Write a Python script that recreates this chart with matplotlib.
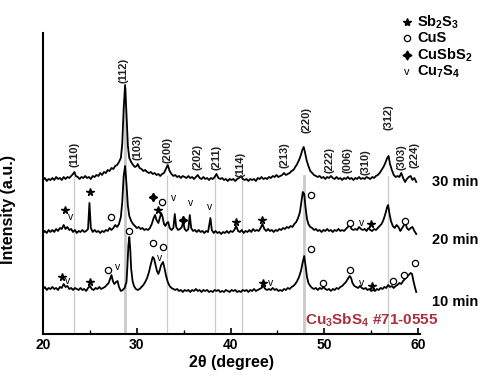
import matplotlib
matplotlib.use('Agg')
import matplotlib.pyplot as plt

plt.rcParams['font.family'] = ['Liberation Sans', 'DejaVu Sans']
plt.rcParams['font.weight'] = 'bold'
plt.rcParams['mathtext.fontset'] = 'custom'
plt.rcParams['mathtext.rm'] = 'Liberation Sans:bold'
plt.rcParams['mathtext.bf'] = 'Liberation Sans:bold'
plt.rcParams['mathtext.default'] = 'bf'

# ---- pattern data (2theta, intensity a.u. with offsets as in the figure) ----
x30 = [20.0, 20.2, 20.4, 20.6, 20.8, 21.0, 21.2, 21.4, 21.6, 21.8, 22.0, 22.2, 22.4, 22.6, 22.8, 23.0, 23.2, 23.35, 23.5, 23.7,
       23.9, 24.1, 24.3, 24.5, 24.7, 24.9, 25.1, 25.3, 25.5, 25.7, 25.9, 26.1, 26.3, 26.5, 26.7, 26.9, 27.1, 27.3, 27.5, 27.7,
       27.9, 28.1, 28.3, 28.45, 28.6, 28.75, 28.9, 29.05, 29.2, 29.4, 29.6, 29.8, 30.0, 30.1, 30.3, 30.5, 30.7, 30.9, 31.1, 31.3,
       31.5, 31.7, 31.9, 32.1, 32.3, 32.5, 32.7, 32.9, 33.1, 33.3, 33.5, 33.7, 33.9, 34.1, 34.3, 34.5, 34.7, 34.9, 35.1, 35.3,
       35.5, 35.7, 35.9, 36.1, 36.3, 36.5, 36.7, 36.9, 37.1, 37.3, 37.5, 37.7, 37.9, 38.1, 38.3, 38.5, 38.7, 38.9, 39.1, 39.3,
       39.5, 39.7, 39.9, 40.1, 40.3, 40.5, 40.7, 40.9, 41.1, 41.3, 41.5, 41.7, 41.9, 42.1, 42.3, 42.5, 42.7, 42.9, 43.1, 43.3,
       43.5, 43.7, 43.9, 44.1, 44.3, 44.5, 44.7, 44.9, 45.1, 45.3, 45.5, 45.7, 45.9, 46.1, 46.3, 46.5, 46.7, 46.9, 47.1, 47.3,
       47.5, 47.65, 47.8, 47.95, 48.1, 48.3, 48.5, 48.7, 48.9, 49.1, 49.3, 49.5, 49.7, 49.9, 50.1, 50.3, 50.5, 50.7, 50.9, 51.1,
       51.3, 51.5, 51.7, 51.9, 52.1, 52.3, 52.5, 52.7, 52.9, 53.1, 53.3, 53.5, 53.7, 53.9, 54.1, 54.3, 54.5, 54.7, 54.9, 55.1,
       55.3, 55.5, 55.7, 55.9, 56.1, 56.3, 56.5, 56.7, 56.85, 57.0, 57.2, 57.4, 57.6, 57.8, 58.0, 58.2, 58.4, 58.6, 58.8, 59.0,
       59.2, 59.4, 59.6, 59.8]
y30 = [154, 156, 153, 155, 154, 156, 154, 157, 155, 156, 154, 157, 155, 157, 156, 158, 160, 162, 158, 157,
       155, 157, 156, 158, 156, 157, 155, 158, 157, 159, 158, 161, 159, 162, 161, 164, 163, 166, 165, 168,
       169, 172, 176, 190, 225, 249, 220, 188, 176, 172, 169, 167, 168, 170, 166, 165, 163, 164, 162, 161,
       162, 160, 161, 159, 160, 158, 160, 161, 165, 169, 163, 160, 158, 159, 157, 158, 156, 158, 157, 156,
       158, 156, 157, 155, 157, 159, 156, 155, 157, 155, 156, 154, 156, 155, 157, 160, 156, 155, 156, 154,
       155, 153, 155, 154, 155, 153, 155, 156, 158, 155, 154, 155, 153, 155, 154, 155, 153, 156, 155, 157,
       155, 156, 155, 157, 156, 158, 157, 159, 157, 158, 159, 161, 159, 160, 161, 163, 164, 167, 170, 174,
       179, 184, 187, 181, 174, 168, 163, 161, 159, 158, 157, 158, 156, 157, 155, 157, 156, 158, 156, 155,
       157, 155, 156, 154, 156, 155, 157, 155, 156, 154, 156, 155, 157, 155, 156, 155, 157, 156, 155, 157,
       156, 158, 159, 161, 164, 167, 171, 176, 178, 170, 164, 159, 157, 158, 157, 161, 156, 152, 155, 157,
       158, 154, 156, 152]

x20 = [20.0, 20.2, 20.4, 20.6, 20.8, 21.0, 21.2, 21.4, 21.6, 21.8, 22.0, 22.2, 22.4, 22.6, 22.8, 23.0, 23.2, 23.4, 23.6, 23.8,
       24.0, 24.2, 24.4, 24.6, 24.8, 24.95, 25.1, 25.3, 25.5, 25.7, 25.9, 26.1, 26.3, 26.5, 26.7, 26.9, 27.1, 27.3, 27.5, 27.7,
       27.9, 28.1, 28.3, 28.45, 28.6, 28.75, 28.9, 29.05, 29.2, 29.4, 29.6, 29.8, 30.0, 30.2, 30.4, 30.6, 30.8, 31.0, 31.2, 31.4,
       31.6, 31.8, 31.95, 32.1, 32.3, 32.45, 32.6, 32.75, 32.9, 33.05, 33.2, 33.35, 33.5, 33.7, 33.9, 34.05, 34.2, 34.4, 34.6, 34.8,
       34.95, 35.1, 35.3, 35.5, 35.65, 35.8, 36.0, 36.2, 36.4, 36.6, 36.8, 37.0, 37.2, 37.4, 37.6, 37.85, 38.0, 38.2, 38.4, 38.6,
       38.8, 39.0, 39.2, 39.4, 39.6, 39.8, 40.0, 40.2, 40.4, 40.6, 40.8, 41.0, 41.2, 41.4, 41.6, 41.8, 42.0, 42.2, 42.4, 42.6,
       42.8, 43.0, 43.2, 43.4, 43.6, 43.8, 44.0, 44.2, 44.4, 44.6, 44.8, 45.0, 45.2, 45.4, 45.6, 45.8, 46.0, 46.2, 46.4, 46.6,
       46.8, 47.0, 47.2, 47.4, 47.55, 47.7, 47.85, 48.0, 48.15, 48.3, 48.5, 48.7, 48.9, 49.1, 49.3, 49.5, 49.7, 49.9, 50.1, 50.3,
       50.5, 50.7, 50.9, 51.1, 51.3, 51.5, 51.7, 51.9, 52.1, 52.3, 52.5, 52.7, 52.9, 53.1, 53.3, 53.5, 53.7, 53.9, 54.1, 54.3,
       54.5, 54.7, 54.9, 55.1, 55.3, 55.5, 55.7, 55.9, 56.1, 56.3, 56.5, 56.7, 56.8, 56.95, 57.1, 57.3, 57.5, 57.7, 57.9, 58.1,
       58.3, 58.5, 58.65, 58.8, 59.0, 59.2, 59.4, 59.6, 59.8]
y20 = [101, 103, 101, 104, 102, 104, 102, 105, 103, 106, 105, 109, 105, 107, 104, 105, 102, 104, 101, 103,
       102, 104, 102, 103, 105, 131, 106, 102, 104, 102, 103, 101, 103, 102, 104, 103, 106, 104, 106, 109,
       107, 110, 117, 132, 158, 168, 150, 128, 118, 113, 110, 108, 106, 107, 105, 106, 104, 105, 104, 106,
       110, 116, 119, 114, 111, 116, 121, 117, 110, 108, 111, 112, 106, 104, 106, 120, 107, 104, 105, 107,
       112, 105, 103, 105, 119, 106, 103, 104, 102, 104, 102, 103, 101, 103, 102, 116, 104, 101, 103, 101,
       102, 100, 102, 101, 103, 101, 103, 102, 104, 108, 103, 102, 104, 101, 103, 102, 104, 102, 105, 103,
       104, 103, 106, 110, 105, 103, 105, 103, 104, 102, 104, 103, 105, 104, 106, 105, 107, 106, 108, 107,
       110, 112, 116, 122, 132, 142, 140, 126, 115, 110, 107, 106, 104, 105, 103, 104, 102, 104, 103, 105,
       103, 104, 102, 104, 103, 105, 103, 104, 103, 105, 107, 109, 105, 104, 105, 104, 107, 105, 104, 105,
       103, 106, 104, 103, 105, 104, 106, 108, 110, 114, 120, 127, 129, 120, 113, 108, 106, 109, 107, 103,
       106, 109, 111, 106, 104, 106, 107, 103, 100]

x10 = [20.0, 20.2, 20.4, 20.6, 20.8, 21.0, 21.2, 21.4, 21.6, 21.8, 22.0, 22.2, 22.4, 22.6, 22.8, 23.0, 23.2, 23.4, 23.6, 23.8,
       24.0, 24.2, 24.4, 24.6, 24.8, 25.0, 25.2, 25.4, 25.6, 25.8, 26.0, 26.2, 26.4, 26.6, 26.8, 27.0, 27.15, 27.3, 27.45, 27.6,
       27.8, 27.95, 28.1, 28.3, 28.5, 28.7, 28.9, 29.0, 29.1, 29.2, 29.3, 29.4, 29.55, 29.7, 29.9, 30.1, 30.3, 30.5, 30.7, 30.9,
       31.1, 31.3, 31.5, 31.7, 31.85, 32.0, 32.15, 32.3, 32.45, 32.6, 32.8, 32.95, 33.1, 33.3, 33.5, 33.7, 33.9, 34.1, 34.3, 34.5,
       34.7, 34.9, 35.1, 35.3, 35.5, 35.7, 35.9, 36.1, 36.3, 36.5, 36.7, 36.9, 37.1, 37.3, 37.5, 37.7, 37.9, 38.1, 38.3, 38.5,
       38.7, 38.9, 39.1, 39.3, 39.5, 39.7, 39.9, 40.1, 40.3, 40.5, 40.7, 40.9, 41.1, 41.3, 41.5, 41.7, 41.9, 42.1, 42.3, 42.5,
       42.7, 42.9, 43.1, 43.3, 43.5, 43.7, 43.9, 44.1, 44.3, 44.5, 44.7, 44.9, 45.1, 45.3, 45.5, 45.7, 45.9, 46.1, 46.3, 46.5,
       46.7, 46.9, 47.1, 47.3, 47.5, 47.7, 47.85, 48.0, 48.15, 48.3, 48.5, 48.7, 48.9, 49.1, 49.3, 49.5, 49.7, 49.9, 50.1, 50.3,
       50.5, 50.7, 50.9, 51.1, 51.3, 51.5, 51.7, 51.9, 52.1, 52.3, 52.5, 52.7, 52.85, 53.0, 53.2, 53.4, 53.6, 53.8, 54.0, 54.2,
       54.4, 54.6, 54.8, 55.0, 55.2, 55.4, 55.6, 55.8, 56.0, 56.2, 56.4, 56.6, 56.8, 57.0, 57.2, 57.4, 57.6, 57.8, 58.0, 58.2,
       58.4, 58.6, 58.8, 59.0, 59.2, 59.35, 59.5, 59.65, 59.8]
y10 = [45, 47, 44, 46, 45, 47, 45, 46, 44, 47, 46, 50, 47, 48, 45, 46, 44, 46, 45, 44,
       46, 44, 45, 43, 46, 48, 45, 44, 46, 45, 47, 45, 46, 47, 49, 51, 55, 59, 53, 50,
       52, 53, 47, 43, 44, 46, 52, 68, 88, 97, 85, 65, 53, 48, 45, 44, 45, 47, 49, 52,
       56, 62, 70, 77, 75, 69, 63, 60, 64, 69, 72, 66, 59, 52, 48, 46, 45, 44, 45, 43,
       44, 42, 44, 43, 44, 42, 44, 43, 45, 43, 44, 42, 44, 43, 44, 42, 43, 42, 44, 43,
       44, 42, 43, 42, 44, 43, 42, 44, 43, 44, 42, 43, 42, 44, 43, 44, 42, 44, 43, 45,
       43, 44, 45, 46, 48, 45, 44, 45, 44, 46, 44, 45, 43, 44, 43, 45, 44, 46, 45, 47,
       48, 50, 53, 57, 63, 72, 78, 68, 57, 51, 48, 46, 45, 46, 44, 46, 45, 47, 45, 44,
       45, 43, 45, 44, 46, 45, 47, 48, 50, 52, 55, 58, 56, 51, 48, 47, 46, 48, 46, 45,
       46, 44, 45, 43, 44, 43, 45, 44, 46, 45, 47, 46, 49, 47, 48, 46, 48, 49, 51, 50,
       53, 55, 57, 59, 61, 60, 53, 47, 42]

# Cu3SbS4 #71-0555 reference positions and hkl labels
ref_pos = [23.3, 28.75, 33.25, 38.3, 41.2, 47.8, 56.8]
hkl = ['(110)', '(112)', '(103)', '(200)', '(202)', '(211)', '(114)', '(213)',
       '(220)', '(222)', '(006)', '(310)', '(312)', '(303)', '(224)']
hkl_x = [23.4, 28.6, 30.1, 33.3, 36.5, 38.5, 41.1, 45.7, 48.1, 50.6, 52.5, 54.4, 56.8, 58.2, 59.6]
hkl_y = [167, 251, 174, 171, 164, 164, 157, 166, 201, 161, 161, 159, 204, 164, 166]

# phase markers (20 min and 10 min patterns)
star_x = [22.3, 25.0, 32.3, 40.6, 43.4, 55.0, 22.0, 25.0, 43.5, 55.1]
star_y = [124, 142, 124, 112, 114, 110, 57, 52, 51, 48]
cus_x = [27.2, 32.7, 48.6, 52.7, 58.6, 26.9, 29.2, 31.7, 32.8, 48.6, 49.9, 52.7, 57.3, 58.5, 59.7]
cus_y = [117, 132, 139, 111, 113, 64, 103, 91, 87, 85, 51, 64, 53, 59, 71]
cusbs2_x = [31.75, 34.9]
cusbs2_y = [137, 114]
cu7s4_x = [22.9, 33.9, 35.7, 37.8, 54.0, 22.6, 27.9, 32.4, 44.3, 54.0]
cu7s4_y = [117, 136, 131, 127, 111, 53, 67, 76, 51, 51]

fig = plt.figure(figsize=(4.99, 3.82), dpi=100)
ax = fig.add_axes([0.0862, 0.1257, 0.7555, 0.7879])

# reference sticks
for p in ref_pos:
    top = 245 if p == 28.75 else 158
    lw = 2.0 if p in (28.75, 47.8) else 0.9
    ax.plot([p, p], [0, top], color='#cacaca', lw=lw, zorder=1)

for xs, ys in [(x30, y30), (x20, y20), (x10, y10)]:
    ax.plot(xs, ys, color='black', lw=1.3, zorder=3)

for lab, px, py in zip(hkl, hkl_x, hkl_y):
    ax.text(px, py, lab, rotation=90, ha='center', va='bottom', fontsize=8,
            fontweight='bold', color='#222222', clip_on=False)

ax.plot(star_x, star_y, ls='none', marker='*', ms=5.5, color='black', zorder=4)
ax.plot(cus_x, cus_y, ls='none', marker='o', ms=4.5, mfc='white', mec='black', mew=0.9, zorder=4)
ax.plot(cusbs2_x, cusbs2_y, ls='none', marker=(4, 1, 0), ms=6, color='black', zorder=4)
for vx, vy in zip(cu7s4_x, cu7s4_y):
    ax.text(vx, vy, 'v', ha='center', va='center', fontsize=7.5, fontweight='normal', zorder=4)

# time labels
ax.text(61.5, 152, '30 min', fontsize=10.5, fontweight='bold', va='center', clip_on=False)
ax.text(61.5, 94, '20 min', fontsize=10.5, fontweight='bold', va='center', clip_on=False)
ax.text(61.5, 32, '10 min', fontsize=10.5, fontweight='bold', va='center', clip_on=False)

ax.text(47.95, 14, r'Cu$_3$SbS$_4$ #71-0555', fontsize=11, fontweight='bold',
        color='#a83040', va='center')

# legend drawn by hand at the top right
leg_y = [312, 296, 279, 262]
ax.plot([58.8], [leg_y[0]], marker='*', ms=6, color='black', clip_on=False)
ax.plot([58.8], [leg_y[1]], marker='o', ms=4.5, mfc='white', mec='black', mew=0.9, clip_on=False)
ax.plot([58.8], [leg_y[2]], marker=(4, 1, 0), ms=6.5, color='black', clip_on=False)
ax.text(58.8, leg_y[3], 'v', ha='center', va='center', fontsize=8, fontweight='normal')
leg_txt = [r'Sb$_2$S$_3$', 'CuS', r'CuSbS$_2$', r'Cu$_7$S$_4$']
for t, ly in zip(leg_txt, leg_y):
    ax.text(59.9, ly, t, fontsize=10.5, fontweight='bold', va='center', clip_on=False)

ax.set_xlim(20, 60.2)
ax.set_ylim(0, 301)
ax.spines['top'].set_visible(False)
ax.spines['right'].set_visible(False)
ax.spines['left'].set_linewidth(1.5)
ax.spines['bottom'].set_linewidth(1.5)
ax.set_yticks([])
ax.set_xticks([20, 30, 40, 50, 60])
ax.set_xticks([25, 35, 45, 55], minor=True)
ax.tick_params(axis='x', direction='in', length=4, width=1.2, labelsize=10, pad=3)
ax.tick_params(axis='x', which='minor', direction='in', length=3, width=1)
for lbl in ax.get_xticklabels():
    lbl.set_fontweight('bold')

ax.set_xlabel('2θ (degree)', fontsize=11.5, fontweight='bold', labelpad=2)
ax.set_ylabel('Intensity (a.u.)', fontsize=11.5, fontweight='bold')
ax.yaxis.set_label_coords(-0.072, 0.415)

fig.savefig('out.png', dpi=100)
